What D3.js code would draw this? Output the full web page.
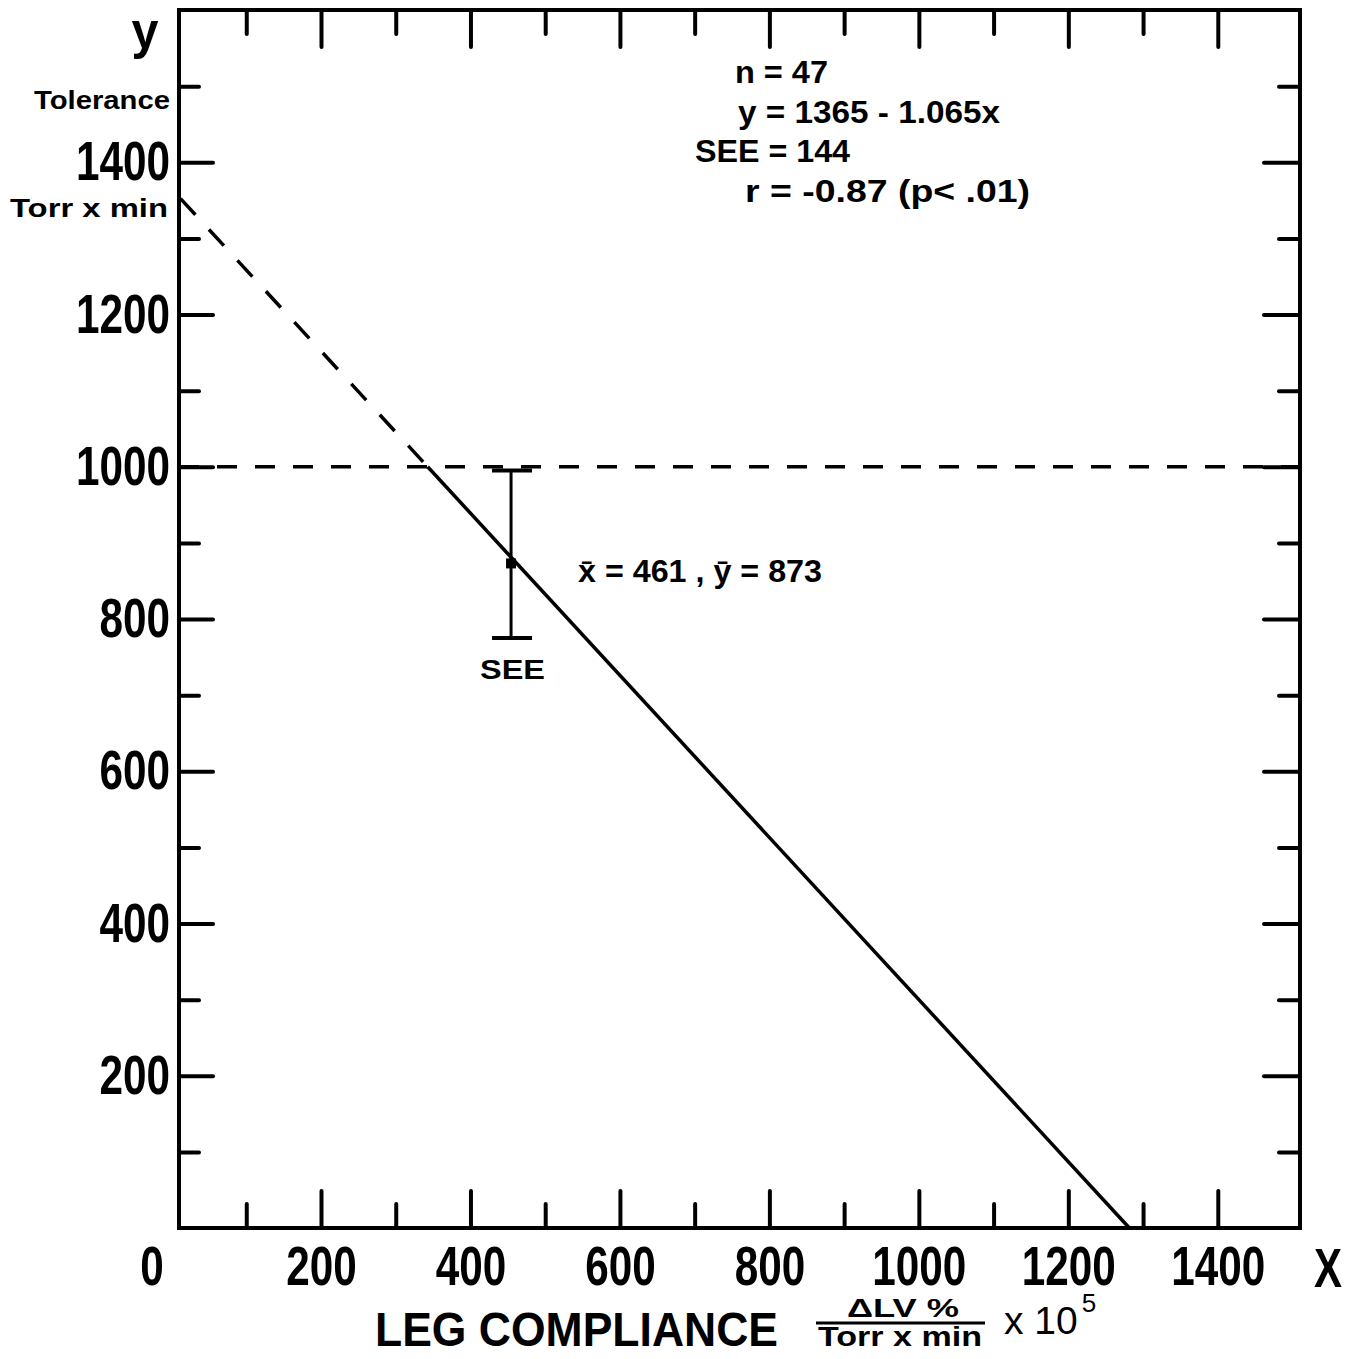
<!DOCTYPE html>
<html>
<head>
<meta charset="utf-8">
<script src="https://cdn.jsdelivr.net/npm/d3@7"></script>
<style>
  body { margin: 0; background: #fff; }
  svg { display: block; }
  text { fill: #000; }
</style>
</head>
<body>
<svg width="1359" height="1359"></svg>
<script>
// Chart data
const xLabels = [0, 200, 400, 600, 800, 1000, 1200, 1400];
const yLabels = [200, 400, 600, 800, 1000, 1200, 1400];
const xMajorTicks = [200, 400, 600, 800, 1000, 1200, 1400];
const xMinorTicks = [100, 300, 500, 700, 900, 1100, 1300];
const yMajorTicks = [200, 400, 600, 800, 1000, 1200, 1400];
const yMinorTicks = [100, 300, 500, 700, 900, 1100, 1300, 1500];

// regression y = 1365 - 1.065x
const intercept = 1365;
const slope = -1.065;
const tolerance = 1000;           // horizontal reference line
const meanPoint = [461, 873];     // x bar, y bar
const seeBar = [775, 995];        // drawn error bar ends

const statLines = ["n = 47", "y = 1365 - 1.065x", "SEE = 144", "r = -0.87 (p< .01)"];

const svg = d3.select("svg"),
    width = +svg.attr("width"),
    height = +svg.attr("height");

const plotL = 179, plotR = 1300, plotT = 10, plotB = 1228;

const x = d3.scaleLinear().domain([10, 1510]).range([plotL, plotR]);
const y = d3.scaleLinear().domain([0, 1600]).range([plotB, plotT]);

const sans = "'Liberation Sans', Arial, sans-serif";

// ticks pointing into the plot on all four sides
function tickAxis(axis, vals, size, tx, ty) {
    const g = svg.append("g")
        .attr("transform", "translate(" + tx + "," + ty + ")")
        .call(axis.tickValues(vals).tickSizeInner(-size).tickSizeOuter(0).tickFormat(""));
    g.select(".domain").remove();
    g.selectAll("line").attr("stroke", "#000").attr("stroke-width", 4).attr("stroke-linecap", "round");
    return g;
}

tickAxis(d3.axisBottom(x), xMajorTicks, 37, 0, plotB);
tickAxis(d3.axisBottom(x), xMinorTicks, 24, 0, plotB);
tickAxis(d3.axisTop(x), xMajorTicks, 37, 0, plotT);
tickAxis(d3.axisTop(x), xMinorTicks, 24, 0, plotT);
tickAxis(d3.axisLeft(y), yMajorTicks, 34, plotL, 0);
tickAxis(d3.axisLeft(y), yMinorTicks, 20, plotL, 0);
tickAxis(d3.axisRight(y), yMajorTicks, 36, plotR, 0);
tickAxis(d3.axisRight(y), yMinorTicks, 21, plotR, 0);

// frame
svg.append("rect")
    .attr("x", plotL).attr("y", plotT)
    .attr("width", plotR - plotL).attr("height", plotB - plotT)
    .attr("fill", "none").attr("stroke", "#000").attr("stroke-width", 4);

// big condensed tick labels
const xLab = svg.append("g")
    .attr("transform", "translate(0," + plotB + ")")
    .call(d3.axisBottom(x).tickValues(xLabels).tickSize(0).tickPadding(18).tickFormat(d3.format("d")));
xLab.select(".domain").remove();
xLab.selectAll("text")
    .attr("font-family", sans).attr("font-weight", "bold").attr("font-size", 55)
    .attr("fill", "#000")
    .attr("textLength", d => String(d).length * 23.5)
    .attr("lengthAdjust", "spacingAndGlyphs")
    .attr("dx", d => d === 0 ? -20 : 0);

const yLab = svg.append("g")
    .attr("transform", "translate(" + plotL + ",0)")
    .call(d3.axisLeft(y).tickValues(yLabels).tickSize(0).tickPadding(9).tickFormat(d3.format("d")));
yLab.select(".domain").remove();
yLab.selectAll("text")
    .attr("font-family", sans).attr("font-weight", "bold").attr("font-size", 55)
    .attr("fill", "#000")
    .attr("textLength", d => String(d).length * 23.5)
    .attr("lengthAdjust", "spacingAndGlyphs");

// horizontal dashed line at 1000
svg.append("line")
    .attr("x1", x(10)).attr("x2", x(1510))
    .attr("y1", y(tolerance)).attr("y2", y(tolerance))
    .attr("stroke", "#000").attr("stroke-width", 3.5)
    .attr("stroke-dasharray", "20,18");

// regression line: dashed above the 1000 line, solid below
const xCross = (tolerance - intercept) / slope;
const xZero = -intercept / slope;
const reg = d => intercept + slope * d;
const line = d3.line().x(d => x(d)).y(d => y(reg(d)));

svg.append("path")
    .attr("d", line([12, xCross]))
    .attr("fill", "none").attr("stroke", "#000").attr("stroke-width", 3.5)
    .attr("stroke-dasharray", "22,20");
svg.append("path")
    .attr("d", line([xCross, xZero]))
    .attr("fill", "none").attr("stroke", "#000").attr("stroke-width", 3.5);

// SEE error bar at the mean
const mx = x(meanPoint[0]) - 5;
svg.append("line")
    .attr("x1", mx).attr("x2", mx)
    .attr("y1", y(seeBar[0])).attr("y2", y(seeBar[1]))
    .attr("stroke", "#000").attr("stroke-width", 3);
svg.selectAll(".cap").data(seeBar).join("line")
    .attr("x1", mx - 19).attr("x2", mx + 21)
    .attr("y1", d => y(d)).attr("y2", d => y(d))
    .attr("stroke", "#000").attr("stroke-width", 4);
svg.append("rect")
    .attr("x", mx - 5).attr("y", y(meanPoint[1]) - 5)
    .attr("width", 10).attr("height", 10).attr("fill", "#000");

svg.append("text")
    .attr("x", 578).attr("y", 582)
    .attr("font-family", sans).attr("font-weight", "bold").attr("font-size", 31)
    .attr("textLength", 244).attr("lengthAdjust", "spacingAndGlyphs")
    .text("x\u0304 = " + meanPoint[0] + " ,  \u0233 = " + meanPoint[1]);

svg.append("text")
    .attr("x", 480).attr("y", 679)
    .attr("font-family", sans).attr("font-weight", "bold").attr("font-size", 28)
    .attr("textLength", 65).attr("lengthAdjust", "spacingAndGlyphs")
    .text("SEE");

// statistics block
const statX = [735, 738, 695, 745];
const statW = [93, 262, 155, 285];
svg.selectAll(".stat").data(statLines).join("text")
    .attr("x", (d, i) => statX[i])
    .attr("y", (d, i) => 83 + i * 39.5)
    .attr("font-family", sans).attr("font-weight", "bold").attr("font-size", 31)
    .attr("textLength", (d, i) => statW[i]).attr("lengthAdjust", "spacingAndGlyphs")
    .text(d => d);

// y axis labels
svg.append("text")
    .attr("x", 145).attr("y", 48).attr("text-anchor", "middle")
    .attr("font-family", sans).attr("font-weight", "bold").attr("font-size", 52)
    .attr("textLength", 27).attr("lengthAdjust", "spacingAndGlyphs")
    .text("y");
svg.append("text")
    .attr("x", 170).attr("y", 109).attr("text-anchor", "end")
    .attr("font-family", sans).attr("font-weight", "bold").attr("font-size", 26)
    .attr("textLength", 136).attr("lengthAdjust", "spacingAndGlyphs")
    .text("Tolerance");
svg.append("text")
    .attr("x", 168).attr("y", 217).attr("text-anchor", "end")
    .attr("font-family", sans).attr("font-weight", "bold").attr("font-size", 26)
    .attr("textLength", 158).attr("lengthAdjust", "spacingAndGlyphs")
    .text("Torr x min");

// x axis labels
svg.append("text")
    .attr("x", 1328).attr("y", 1287).attr("text-anchor", "middle")
    .attr("font-family", sans).attr("font-weight", "bold").attr("font-size", 55)
    .attr("textLength", 28).attr("lengthAdjust", "spacingAndGlyphs")
    .text("X");
svg.append("text")
    .attr("x", 375).attr("y", 1346)
    .attr("font-family", sans).attr("font-weight", "bold").attr("font-size", 48)
    .attr("textLength", 403).attr("lengthAdjust", "spacingAndGlyphs")
    .text("LEG  COMPLIANCE");

// unit fraction
svg.append("text")
    .attr("x", 903).attr("y", 1317).attr("text-anchor", "middle")
    .attr("font-family", sans).attr("font-weight", "bold").attr("font-size", 25)
    .attr("textLength", 112).attr("lengthAdjust", "spacingAndGlyphs")
    .text("\u0394LV %");
svg.append("line")
    .attr("x1", 816).attr("x2", 985).attr("y1", 1323).attr("y2", 1323)
    .attr("stroke", "#000").attr("stroke-width", 3);
svg.append("text")
    .attr("x", 900).attr("y", 1346).attr("text-anchor", "middle")
    .attr("font-family", sans).attr("font-weight", "bold").attr("font-size", 27)
    .attr("textLength", 164).attr("lengthAdjust", "spacingAndGlyphs")
    .text("Torr x min");
const pow = svg.append("text")
    .attr("x", 1004).attr("y", 1334)
    .attr("font-family", sans).attr("font-size", 39);
pow.append("tspan").text("x 10");
pow.append("tspan").attr("dx", 4).attr("dy", -22).attr("font-size", 26).text("5");
</script>
</body>
</html>
